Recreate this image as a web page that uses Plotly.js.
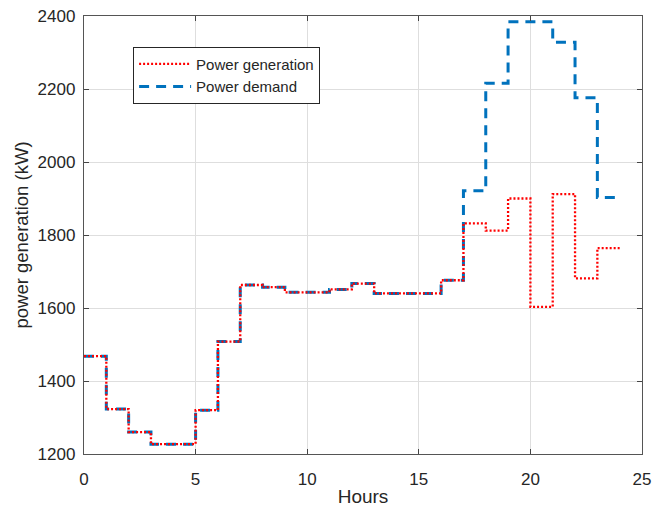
<!DOCTYPE html>
<html>
<head>
<meta charset="utf-8">
<script src="https://cdn.plot.ly/plotly-3.0.1.min.js"></script>
<style>
  html, body { margin: 0; padding: 0; background: #ffffff; }
  #chart { width: 666px; height: 507px; }
</style>
</head>
<body>
<div id="chart"></div>
<script>
// Hour boundaries (step starts), 0..24
const hours = [0,1,2,3,4,5,6,7,8,9,10,11,12,13,14,15,16,17,18,19,20,21,22,23,24];
// Hourly values (kW), one per hour interval 0-1 ... 23-24
const generation = [1468,1323,1260,1227,1227,1320,1508,1663,1657,1643,1643,1651,1667,1640,1640,1640,1676,1832,1812,1900,1603,1912,1681,1764];
const demand     = [1468,1323,1260,1227,1227,1320,1508,1663,1657,1643,1643,1651,1667,1640,1640,1640,1676,1921,2216,2384,2384,2328,2176,1903];
const xTicks = [0,5,10,15,20,25];
const yTicks = [1200,1400,1600,1800,2000,2200,2400];

// repeat last value so the final step extends to hour 24
const stepY = arr => arr.concat([arr[arr.length - 1]]);

const txt = '#262626';
const traces = [
  {
    x: hours, y: stepY(demand), type: 'scatter', mode: 'lines',
    name: 'Power demand',
    line: { shape: 'hv', color: '#0072BD', width: 3, dash: '10px,7px' }
  },
  {
    x: hours, y: stepY(generation), type: 'scatter', mode: 'lines',
    name: 'Power generation',
    line: { shape: 'hv', color: '#FF0000', width: 2.3, dash: '2px,2px' }
  }
];

const axisCommon = {
  showline: true, linecolor: '#555555', linewidth: 1.2, mirror: 'ticks',
  ticks: 'inside', ticklen: 5, tickwidth: 1, tickcolor: '#444444',
  showgrid: true, gridcolor: '#dedede', gridwidth: 1,
  zeroline: false,
  tickfont: { family: 'Liberation Sans, Arial, sans-serif', size: 17, color: txt }
};

const layout = {
  width: 666, height: 507,
  margin: { l: 84, r: 24, t: 16, b: 53 },
  paper_bgcolor: '#ffffff', plot_bgcolor: '#ffffff',
  font: { family: 'Liberation Sans, Arial, sans-serif', color: txt },
  showlegend: true,
  legend: {
    x: 0.088, y: 0.93, xanchor: 'left', yanchor: 'top',
    traceorder: 'reversed',
    bgcolor: '#ffffff', bordercolor: '#262626', borderwidth: 1,
    font: { size: 15, color: txt },
    itemwidth: 52,
    tracegroupgap: 0
  },
  xaxis: Object.assign({}, axisCommon, {
    range: [0, 25], tickvals: xTicks, ticktext: xTicks.map(String),
    ticklabelstandoff: 9,
    title: { text: 'Hours', font: { size: 19, color: txt }, standoff: 7 }
  }),
  yaxis: Object.assign({}, axisCommon, {
    range: [1200, 2400], tickvals: yTicks, ticktext: yTicks.map(String),
    ticklabelstandoff: 4,
    title: { text: 'power generation (kW)', font: { size: 18.5, color: txt }, standoff: 4 }
  })
};

Plotly.newPlot('chart', traces, layout, { displayModeBar: false, staticPlot: true });
</script>
</body>
</html>
